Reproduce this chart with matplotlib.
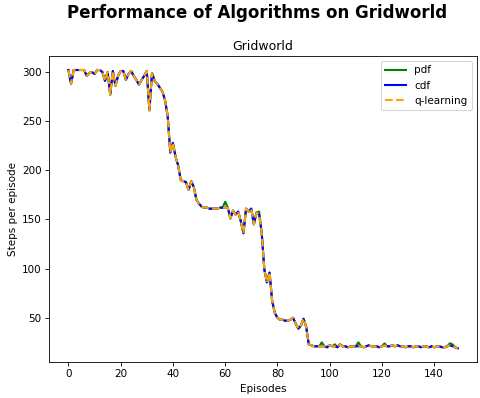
import numpy as np
import matplotlib
matplotlib.use("Agg")
import matplotlib.pyplot as plt

# Steps per episode (150 episodes)
qlearning = [302, 288, 302, 302, 302, 302, 302, 296, 299, 300,
             298, 302, 302, 300, 291, 300, 277, 301, 286, 296,
             301, 301, 292, 298, 301, 296, 292, 287, 292, 296,
             301, 261, 299, 291, 288, 284, 280, 271, 255, 218,
             228, 214, 205, 190, 189, 188, 180, 189, 183, 170,
             166, 163, 162, 162, 161, 161, 161, 161, 162, 162,
             162, 162, 151, 159, 155, 158, 148, 136, 161, 158,
             161, 145, 157, 155, 136, 99, 86, 96, 67, 55,
             50, 48, 48, 47, 47, 48, 50, 44, 39, 42,
             49, 41, 23, 22, 21, 21, 21, 21, 21, 20,
             22, 21, 21, 20, 23, 21, 21, 20, 21, 21,
             21, 21, 21, 20, 21, 22, 21, 21, 21, 20,
             21, 22, 21, 21, 22, 21, 22, 21, 21, 20,
             21, 21, 20, 21, 21, 20, 21, 21, 20, 21,
             20, 21, 21, 20, 20, 21, 22, 21, 20, 19]

cdf = list(qlearning)
cdf[104] = 23

pdf = list(qlearning)
pdf[60] = 168
pdf[73] = 158
pdf[97] = 25
pdf[102] = 23
pdf[111] = 25
pdf[121] = 24
pdf[146] = 24
pdf[147] = 23

episodes = np.arange(len(qlearning))

fig = plt.figure(figsize=(6.4, 5.307))
fig.suptitle("Performance of Algorithms on Gridworld", fontsize=16, fontweight="bold",
             x=0.535, y=0.99, va="top")
ax = fig.add_subplot(111)
ax.plot(episodes, pdf, color="green", linewidth=2, label="pdf")
ax.plot(episodes, cdf, color="blue", linewidth=2, label="cdf")
ax.plot(episodes, qlearning, color="orange", linewidth=2, linestyle="--", label="q-learning")
ax.set_title("Gridworld")
ax.set_xlabel("Episodes")
ax.set_ylabel("Steps per episode")
ax.legend(loc="upper right")

fig.subplots_adjust(left=0.102, right=0.994, bottom=0.09, top=0.859)
plt.savefig("out.png", dpi=75)
